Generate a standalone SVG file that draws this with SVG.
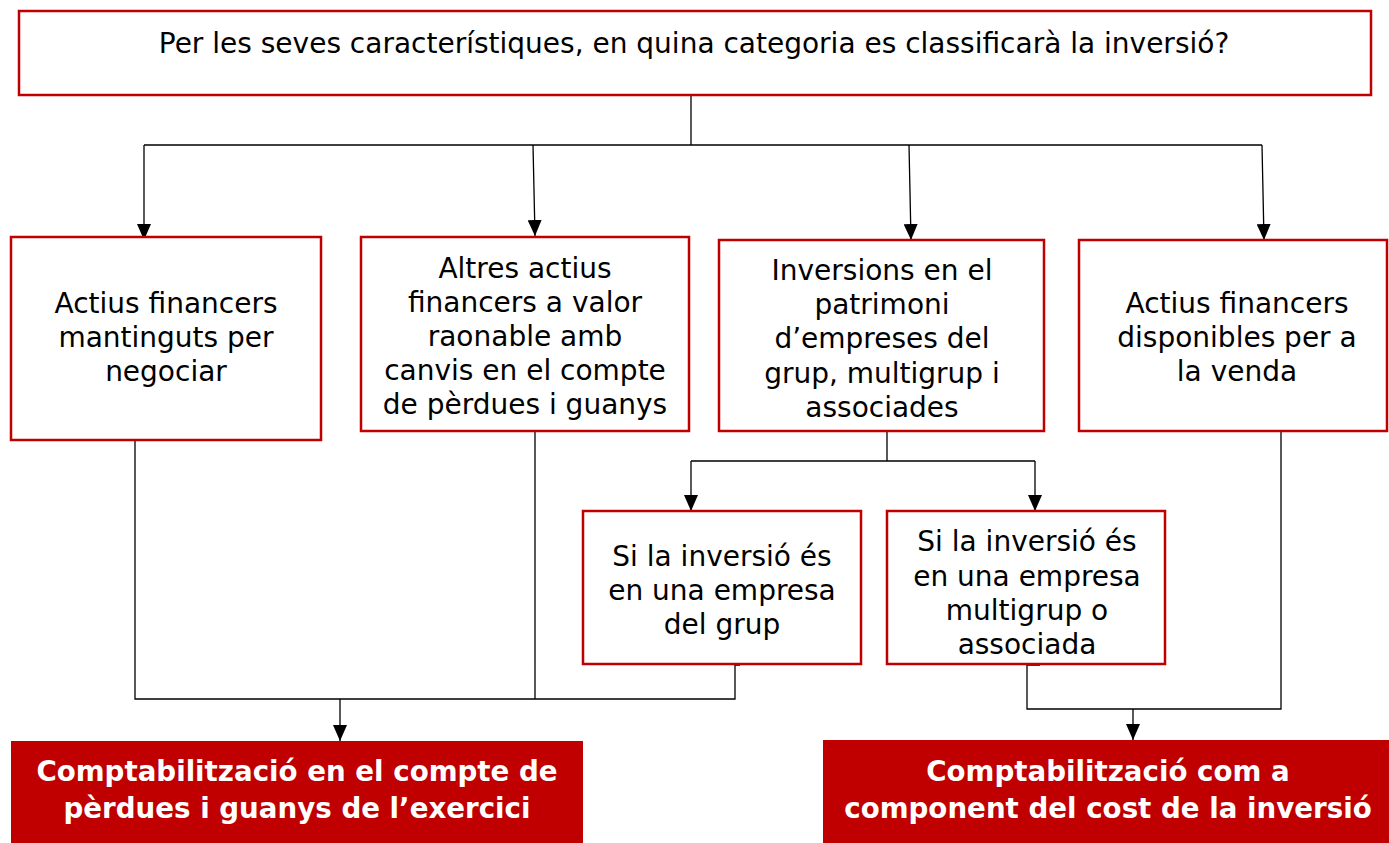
<svg xmlns="http://www.w3.org/2000/svg" width="1389" height="843" viewBox="0 0 1389 843">
<style>
.box{fill:#fff;stroke:#c00000;stroke-width:2.5}
.res{fill:#c00000;stroke:none}
.t{font-family:"DejaVu Sans","Liberation Sans",sans-serif;font-size:28px;fill:#000;text-anchor:middle}
.b{font-family:"DejaVu Sans","Liberation Sans",sans-serif;font-size:27.7px;font-weight:bold;fill:#fff;text-anchor:middle}
.c{fill:none;stroke:#000;stroke-width:1.3}
</style>
<defs>
<marker id="ah" markerWidth="16" markerHeight="14" refX="16" refY="7" orient="auto" markerUnits="userSpaceOnUse" viewBox="0 0 16 14">
<path d="M0,0 L16,7 L0,14 z" fill="#000"/>
</marker>
</defs>
<rect width="1389" height="843" fill="#fff"/>
<g id="connectors">
<path class="c" d="M691,95 V145 M144,145 H1262"/>
<path class="c" d="M144,145 V240" marker-end="url(#ah)"/>
<path class="c" d="M533,145 L535,236" marker-end="url(#ah)"/>
<path class="c" d="M909,145 L911,240" marker-end="url(#ah)"/>
<path class="c" d="M1262,145 L1264,240" marker-end="url(#ah)"/>
<path class="c" d="M887,431 V461 M691,461 H1035"/>
<path class="c" d="M691,461 V511" marker-end="url(#ah)"/>
<path class="c" d="M1035,461 V511" marker-end="url(#ah)"/>
<path class="c" d="M138,431 H135 V699 H735 V665 H740 M535,431 V699"/>
<path class="c" d="M340,699 V741" marker-end="url(#ah)"/>
<path class="c" d="M1040,665 H1027 V709 H1281 V431"/>
<path class="c" d="M1133,709 V740" marker-end="url(#ah)"/>
</g>
<g id="question">
<rect class="box" x="19" y="11" width="1352" height="84"/>
<text class="t" x="694" y="53">Per les seves característiques, en quina categoria es classificarà la inversió?</text>
</g>
<g id="n1">
<rect class="box" x="11" y="237" width="310" height="203"/>
<text class="t" x="166" y="313">Actius financers</text>
<text class="t" x="166" y="347">mantinguts per</text>
<text class="t" x="166" y="381">negociar</text>
</g>
<g id="n2">
<rect class="box" x="361" y="237" width="328" height="194"/>
<text class="t" x="525" y="278">Altres actius</text>
<text class="t" x="525" y="312">financers a valor</text>
<text class="t" x="525" y="346">raonable amb</text>
<text class="t" x="525" y="380">canvis en el compte</text>
<text class="t" x="525" y="414">de pèrdues i guanys</text>
</g>
<g id="n3">
<rect class="box" x="719" y="240" width="325" height="191"/>
<text class="t" x="882" y="280">Inversions en el</text>
<text class="t" x="882" y="314">patrimoni</text>
<text class="t" x="882" y="348">d’empreses del</text>
<text class="t" x="882" y="383">grup, multigrup i</text>
<text class="t" x="882" y="417">associades</text>
</g>
<g id="n4">
<rect class="box" x="1079" y="240" width="308" height="191"/>
<text class="t" x="1237" y="313">Actius financers</text>
<text class="t" x="1237" y="347">disponibles per a</text>
<text class="t" x="1237" y="381">la venda</text>
</g>
<g id="n5">
<rect class="box" x="583" y="511" width="278" height="153"/>
<text class="t" x="722" y="566">Si la inversió és</text>
<text class="t" x="722" y="600">en una empresa</text>
<text class="t" x="722" y="634">del grup</text>
</g>
<g id="n6">
<rect class="box" x="887" y="511" width="278" height="153"/>
<text class="t" x="1027" y="551">Si la inversió és</text>
<text class="t" x="1027" y="586">en una empresa</text>
<text class="t" x="1027" y="620">multigrup o</text>
<text class="t" x="1027" y="654">associada</text>
</g>
<g id="r1">
<rect class="res" x="11" y="741" width="572" height="102"/>
<text class="b" x="297" y="781">Comptabilització en el compte de</text>
<text class="b" x="297" y="818">pèrdues i guanys de l’exercici</text>
</g>
<g id="r2">
<rect class="res" x="823" y="740" width="566" height="103"/>
<text class="b" x="1108" y="781">Comptabilització com a</text>
<text class="b" x="1108" y="818">component del cost de la inversió</text>
</g>
</svg>
